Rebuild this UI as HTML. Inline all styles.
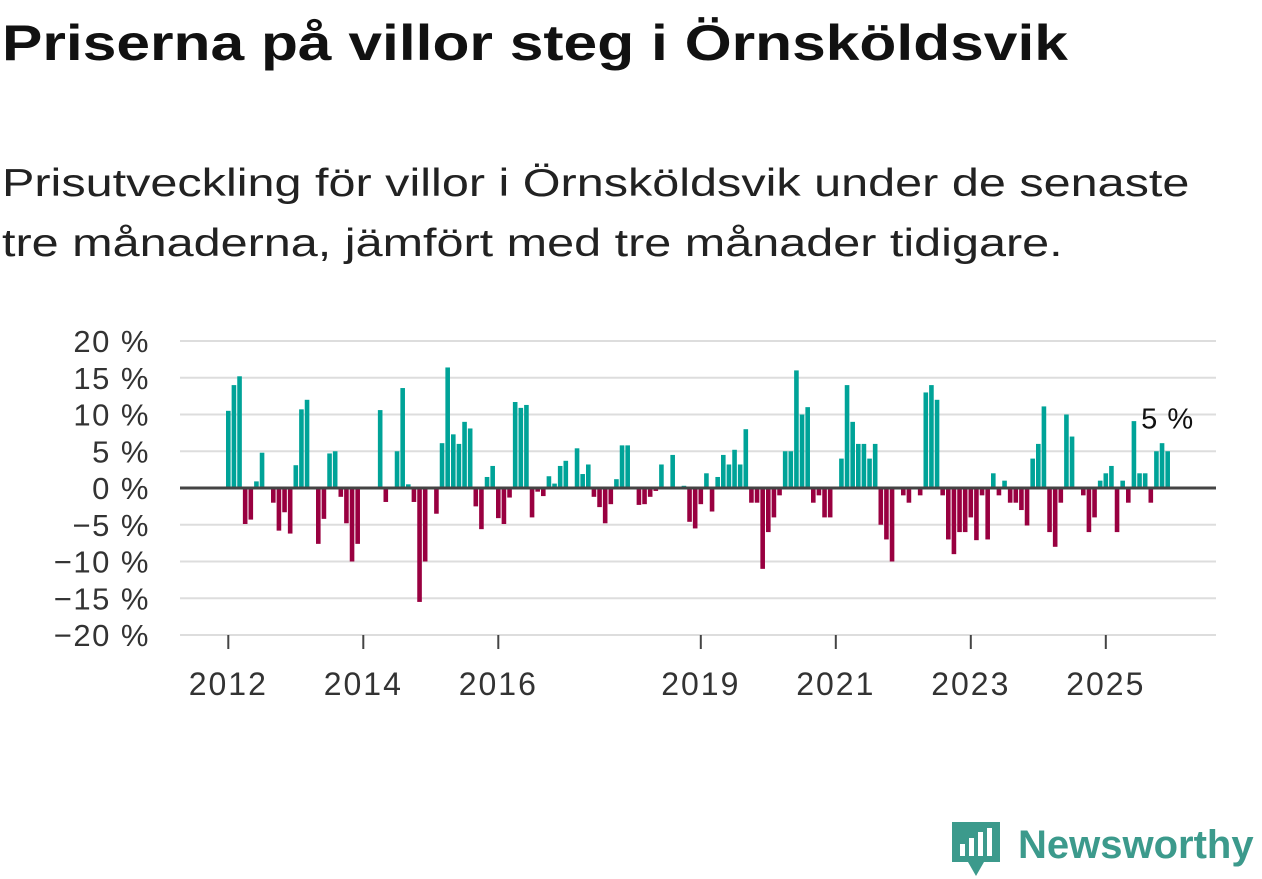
<!DOCTYPE html>
<html><head><meta charset="utf-8"><style>
body{margin:0;width:1262px;height:879px;background:#fff;overflow:hidden;font-family:"Liberation Sans",sans-serif;color:#111}
#title{position:absolute;left:2px;top:14px;font-size:50px;font-weight:bold;margin:0;white-space:nowrap;transform:scaleX(1.21);transform-origin:left top}
#sub{position:absolute;left:2px;top:154px;font-size:39px;line-height:60px;margin:0;color:#222;white-space:nowrap;transform:scaleX(1.245);transform-origin:left top}
svg{position:absolute;left:0;top:0}
</style></head><body>
<h1 id="title">Priserna på villor steg i Örnsköldsvik</h1>
<p id="sub">Prisutveckling för villor i Örnsköldsvik under de senaste<br>tre månaderna, jämfört med tre månader tidigare.</p>
<svg id="chart" width="1262" height="879"></svg>
<script>
const startYear = 2012;
const values = [10.5,14,15.2,-4.9,-4.3,0.9,4.8,0,-2,-5.8,-3.3,-6.2,3.1,10.7,12,0,-7.6,-4.2,4.7,5,-1.2,-4.8,-10,-7.6,0,0,0,10.6,-1.9,0,5,13.6,0.5,-1.9,-15.5,-10,0,-3.5,6.1,16.4,7.3,6,9,8.1,-2.5,-5.6,1.5,3,-4.1,-4.9,-1.3,11.7,10.9,11.3,-4,-0.5,-1.1,1.6,0.6,3,3.7,0,5.4,1.9,3.2,-1.2,-2.6,-4.8,-2.2,1.2,5.8,5.8,0,-2.3,-2.2,-1.2,-0.4,3.2,0,4.5,0,0.3,-4.6,-5.5,-2.2,2,-3.2,1.5,4.5,3.2,5.2,3.2,8,-2,-2,-11,-6,-4,-1,5,5,16,10,11,-2,-1,-4,-4,0,4,14,9,6,6,4,6,-5,-7,-10,0,-1,-2,0,-1,13,14,12,-1,-7,-9,-6,-6,-4,-7.1,-1,-7,2,-1,1,-2,-2,-3,-5.1,4,6,11.1,-6,-8,-2,10,7,0,-1,-6,-4,1,2,3,-6,1,-2,9.1,2,2,-2,5,6.1,5];
const yTicks = [20,15,10,5,0,-5,-10,-15,-20];
const xTickYears = [2012,2014,2016,2019,2021,2023,2025];
const endLabel = "5 %";
const NS="http://www.w3.org/2000/svg";
const svg=document.getElementById('chart');
const x0=180,x1=1216,yTop=341,yBot=635;
const y=v=>488-v*(yBot-yTop)/40;
const mw=5.625, m0=228.3;
const xm=i=>m0+i*mw;
const xYear=yr=>xm((yr-startYear)*12);
function el(t,a){const e=document.createElementNS(NS,t);for(const k in a)e.setAttribute(k,a[k]);svg.appendChild(e);return e;}
yTicks.forEach(v=>{
 const g=el('line',{x1:x0,x2:x1,y1:y(v),y2:y(v),stroke:'#dddddd','stroke-width':2});
 
 
 const t=el('text',{x:150,y:y(v)+11,'text-anchor':'end','font-size':31,'letter-spacing':1.5,fill:'#333','font-family':'Liberation Sans, sans-serif'});
 t.textContent=(v<0?'\u2212'+(-v):v)+' %';
 
 
});
values.forEach((v,i)=>{
 if(v===0)return;
 const r=el('rect',{x:xm(i)-2.3,width:4.6,y:Math.min(y(v),y(0)),height:Math.abs(y(v)-y(0)),fill:v>0?'#00a398':'#990040'});
 
 
});
const ax=el('line',{x1:x0,x2:x1,y1:y(0),y2:y(0),stroke:'#444','stroke-width':3});


xTickYears.forEach(yr=>{
 const xx=xYear(yr);
 const l=el('line',{x1:xx,x2:xx,y1:yBot,y2:yBot+14,stroke:'#444','stroke-width':2});
 
 
 const t=el('text',{x:xx,y:yBot+60,'text-anchor':'middle','font-size':32,'letter-spacing':2,fill:'#333','font-family':'Liberation Sans, sans-serif'});
 t.textContent=yr;
 
 
});
const lab=el('text',{x:xm(values.length-1),y:y(values[values.length-1])-23,'text-anchor':'middle','font-size':29,'letter-spacing':1,fill:'#111','font-family':'Liberation Sans, sans-serif'});
lab.textContent=endLabel;


</script>
<svg width="1262" height="879" style="position:absolute;left:0;top:0;pointer-events:none">
<g>
<path d="M952 822 h48 v40 h-16 l-8 14 l-8 -14 h-16 z" fill="#3c9a8c"/>
<rect x="960" y="844" width="5" height="12" fill="#fff"/>
<rect x="969" y="838" width="5" height="18" fill="#fff"/>
<rect x="978" y="832" width="5" height="24" fill="#fff"/>
<rect x="987" y="828" width="5" height="28" fill="#fff"/>
<text x="1018" y="858" font-size="40" font-weight="bold" fill="#3c9a8c" font-family="Liberation Sans, sans-serif">Newsworthy</text>
</g>
</svg>
</body></html>
